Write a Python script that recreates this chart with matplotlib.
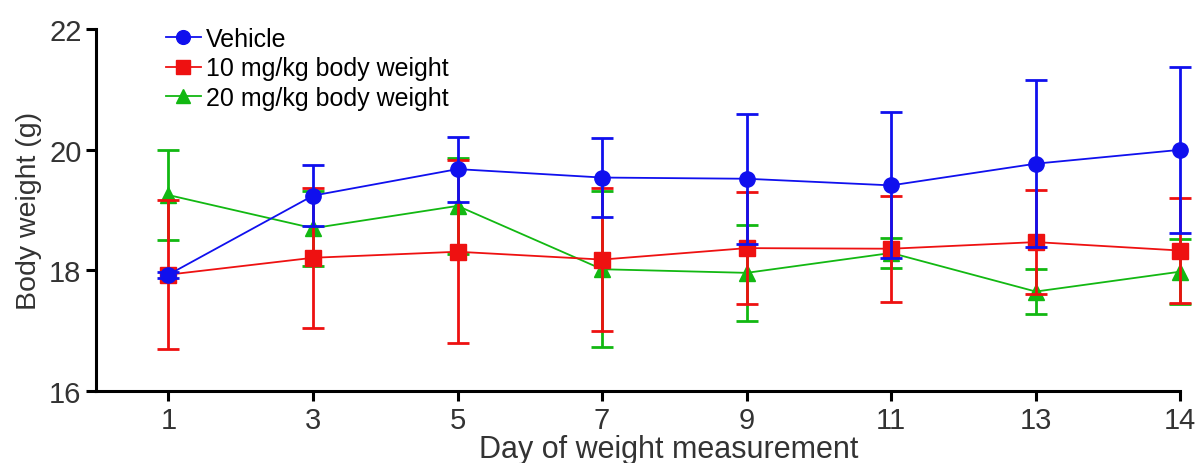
import matplotlib.pyplot as plt
import numpy as np

plt.rcParams['font.family'] = ['Liberation Sans', 'DejaVu Sans']

# data
days = ['1', '3', '5', '7', '9', '11', '13', '14']

vehicle_mean = [17.93, 19.24, 19.68, 19.54, 19.52, 19.41, 19.77, 20.00]
vehicle_sd = [0.05, 0.50, 0.54, 0.65, 1.08, 1.21, 1.38, 1.38]

mg10_mean = [17.93, 18.21, 18.31, 18.18, 18.37, 18.36, 18.47, 18.33]
mg10_sd = [1.23, 1.16, 1.52, 1.18, 0.93, 0.88, 0.86, 0.87]

mg20_mean = [19.25, 18.70, 19.07, 18.02, 17.96, 18.29, 17.65, 17.98]
mg20_sd = [0.75, 0.62, 0.80, 1.29, 0.79, 0.25, 0.37, 0.54]

x = np.arange(len(days))

fig = plt.figure(figsize=(12.02, 4.64), dpi=100)
ax = fig.add_axes([0.08, 0.155, 0.902, 0.78])

series = [
    ('20 mg/kg body weight', mg20_mean, mg20_sd, '#12b812', '^', 11, 2),
    ('10 mg/kg body weight', mg10_mean, mg10_sd, '#ee1111', 's', 11, 3),
    ('Vehicle', vehicle_mean, vehicle_sd, '#1010ee', 'o', 11, 4),
]

handles = {}
for label, m, sd, col, mk, ms, z in series:
    h = ax.errorbar(x, m, yerr=sd, color=col, marker=mk, markersize=ms,
                    linewidth=1.3, elinewidth=2.0, capsize=8, capthick=2.0,
                    label=label, zorder=z)
    for art in h.get_children():
        art.set_clip_on(False)
    handles[label] = h[0]

order = ['Vehicle', '10 mg/kg body weight', '20 mg/kg body weight']
ax.legend([handles[k] for k in order], order, loc='upper left',
          bbox_to_anchor=(0.048, 1.055), frameon=False, fontsize=18,
          handlelength=1.4, handletextpad=0.2, labelspacing=0.22,
          borderpad=0.2, markerscale=0.9)

ax.set_xlim(-0.5, 7)
ax.set_ylim(16, 22)
ax.set_xticks(x)
ax.set_xticklabels(days)
ax.set_yticks([16, 18, 20, 22])

for s in ['top', 'right']:
    ax.spines[s].set_visible(False)
for s in ['left', 'bottom']:
    ax.spines[s].set_linewidth(2.2)
ax.tick_params(axis='both', direction='out', length=7, width=2.2,
               labelsize=21, colors='black', labelcolor='#333333')

ax.set_xlabel('Day of weight measurement', fontsize=22, color='#333333')
ax.xaxis.set_label_coords(0.528, -0.118)
ax.set_ylabel('Body weight (g)', fontsize=20.5, color='#333333')
ax.yaxis.set_label_coords(-0.05, 0.5)

plt.savefig('out.png', dpi=100)
